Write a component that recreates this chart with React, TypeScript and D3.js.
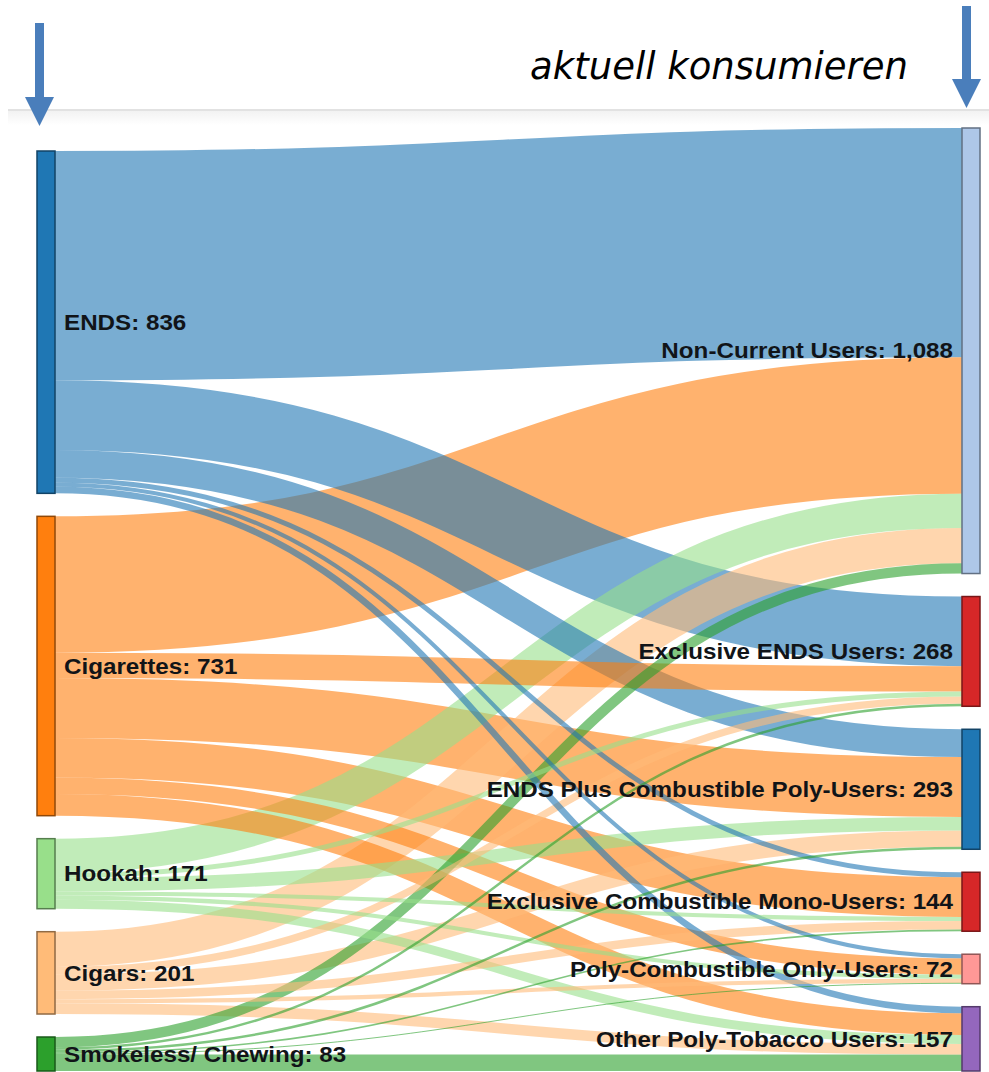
import * as d3 from 'd3';
import { useMemo } from 'react';

const sourceNames = ['ENDS', 'Cigarettes', 'Hookah', 'Cigars', 'Smokeless/ Chewing'];
const sourceColors = ['#1f77b4', '#ff7f0e', '#98df8a', '#ffbb78', '#2ca02c'];

const targetNames = [
  'Non-Current Users',
  'Exclusive ENDS Users',
  'ENDS Plus Combustible Poly-Users',
  'Exclusive Combustible Mono-Users',
  'Poly-Combustible Only-Users',
  'Other Poly-Tobacco Users',
];
const targetColors = ['#aec7e8', '#d62728', '#1f77b4', '#d62728', '#ff9896', '#9467bd'];

// flows from each source, in the order of targetNames
const fromEnds = [560, 170, 68, 12, 10, 16];
const fromCigarettes = [333, 62, 146, 97, 40, 53];
const fromHookah = [84, 12, 33, 10, 10, 22];
const fromCigars = [86, 18, 40, 21, 10, 26];
const fromSmokeless = [25, 6, 6, 4, 2, 40];
const flows = [fromEnds, fromCigarettes, fromHookah, fromCigars, fromSmokeless];

const W = 989;
const H = 1072;
const fmt = d3.format(',');

function arrow(cx: number, yTop: number, yHead: number, yTip: number) {
  const sw = 4.5, hw = 14.5;
  return `M${cx - sw},${yTop}H${cx + sw}V${yHead}H${cx + hw}L${cx},${yTip}L${cx - hw},${yHead}H${cx - sw}Z`;
}

export default function App() {
  const { nodes, links } = useMemo(() => {
    const nodeWidth = 18;
    const nodePadding = 23;
    const top = 128;
    const bottom = 1071;
    const x = d3.scaleLinear().domain([0, 1]).range([37, 962]);

    const srcTotals = flows.map(f => d3.sum(f));
    const tgtTotals = targetNames.map((_, j) => d3.sum(flows, f => f[j]));
    const total = d3.sum(srcTotals);
    const maxCount = Math.max(sourceNames.length, targetNames.length);
    const ky = d3.scaleLinear()
      .domain([0, total])
      .range([0, bottom - top - (maxCount - 1) * nodePadding]);

    const nodes: any[] = [];
    // left column, pushed to the bottom edge
    let y = bottom - (ky(total) + (sourceNames.length - 1) * nodePadding);
    const src = sourceNames.map((name, i) => {
      const n = { name, value: srcTotals[i], color: sourceColors[i], x0: x(0), x1: x(0) + nodeWidth, y0: y, y1: y + ky(srcTotals[i]), side: 'left' };
      y = n.y1 + nodePadding;
      nodes.push(n);
      return n;
    });
    y = top;
    const tgt = targetNames.map((name, j) => {
      const n = { name, value: tgtTotals[j], color: targetColors[j], x0: x(1), x1: x(1) + nodeWidth, y0: y, y1: y + ky(tgtTotals[j]), side: 'right' };
      y = n.y1 + nodePadding;
      nodes.push(n);
      return n;
    });

    const sOff = src.map(() => 0);
    const tOff = tgt.map(() => 0);
    const links: any[] = [];
    flows.forEach((f, i) => {
      f.forEach((v, j) => {
        const w = ky(v);
        const sy = src[i].y0 + sOff[i] + w / 2;
        sOff[i] += w;
        links.push({ i, j, v, w, sy });
      });
    });
    // target side stacked by source order
    targetNames.forEach((_, j) => {
      links.filter(l => l.j === j).sort((a, b) => a.i - b.i).forEach(l => {
        l.ty = tgt[j].y0 + tOff[j] + l.w / 2;
        tOff[j] += l.w;
      });
    });
    const gen = d3.linkHorizontal();
    links.forEach(l => {
      l.d = gen({ source: [src[l.i].x1, l.sy], target: [tgt[l.j].x0, l.ty] } as any);
      l.color = sourceColors[l.i];
    });
    links.sort((a, b) => b.v - a.v);
    return { nodes, links };
  }, []);

  return (
    <svg width={W} height={H} style={{ position: 'absolute', left: 0, top: 0, background: '#fff' }}>
      <defs>
        <linearGradient id="shade" x1="0" y1="0" x2="0" y2="1">
          <stop offset="0" stopColor="#f2f2f2" />
          <stop offset="1" stopColor="#ffffff" />
        </linearGradient>
      </defs>
      <rect x={8} y={111} width={W - 8} height={14} fill="url(#shade)" />
      <line x1={8} x2={W} y1={110} y2={110} stroke="#e2e2e2" strokeWidth={2} />

      <g fill="none">
        {links.map((l, k) => (
          <path key={k} d={l.d} stroke={l.color} strokeOpacity={0.6} strokeWidth={Math.max(1, l.w)} />
        ))}
      </g>

      <g>
        {nodes.map((n, k) => (
          <rect key={k} x={n.x0} y={n.y0} width={n.x1 - n.x0} height={n.y1 - n.y0}
            fill={n.color} stroke={d3.color(n.color)!.darker(1.6).toString()} strokeWidth={1.5} />
        ))}
      </g>

      <g fontFamily="'Liberation Sans', Arial, sans-serif" fontWeight="bold" fontSize={22} fill="#111418">
        {nodes.map((n, k) => {
          const left = n.side === 'left';
          const tx = left ? n.x1 + 9 : n.x0 - 9;
          return (
            <text key={k} transform={`translate(${tx},${(n.y0 + n.y1) / 2}) scale(1.1,1)`} dy="0.35em"
              textAnchor={left ? 'start' : 'end'}>
              {`${n.name}: ${fmt(n.value)}`}
            </text>
          );
        })}
      </g>

      <text x={908} y={79} textAnchor="end" fontFamily="'DejaVu Sans', sans-serif" fontStyle="italic" fontSize={37} fill="#000">
        aktuell konsumieren
      </text>
      <path d={arrow(39.5, 23, 97, 126)} fill="#4a7ebb" />
      <path d={arrow(966.5, 6, 79, 108)} fill="#4a7ebb" />
    </svg>
  );
}
